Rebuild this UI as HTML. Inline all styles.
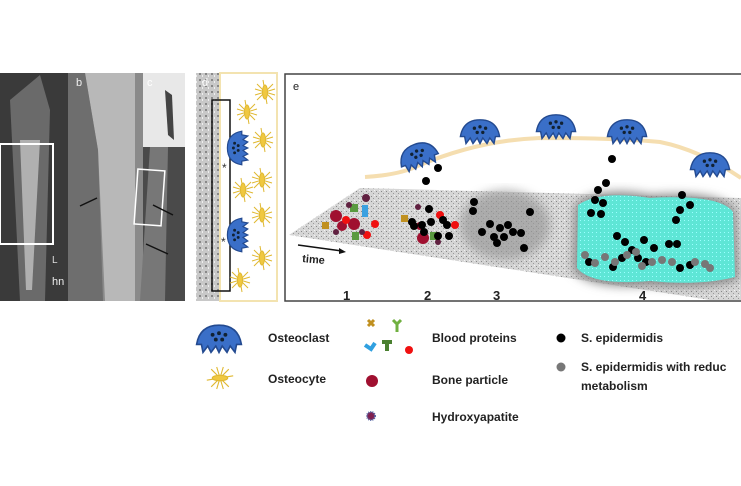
<!DOCTYPE html><html><head><style>
body{margin:0;width:741px;height:486px;background:#fff;overflow:hidden;position:relative;font-family:"Liberation Sans",sans-serif}
.t{position:absolute;font-size:12px;font-weight:bold;color:#222;white-space:nowrap}
</style></head><body>
<svg width="741" height="486" style="position:absolute;left:0;top:0">
<defs>
<pattern id="sp" width="5" height="5" patternUnits="userSpaceOnUse"><rect width="5" height="5" fill="#d6d6d6"/><rect x="1" y="1" width="1" height="1" fill="#888"/><rect x="3" y="3" width="1" height="1" fill="#999"/><rect x="4" y="0" width="1" height="1" fill="#f4f4f4"/></pattern>
<pattern id="sp2" width="6" height="6" patternUnits="userSpaceOnUse"><rect width="6" height="6" fill="#c8c8c8"/><rect x="1" y="1" width="2" height="2" fill="#888"/><rect x="4" y="3" width="1" height="2" fill="#eee"/></pattern>
<pattern id="cy" width="4" height="4" patternUnits="userSpaceOnUse"><rect width="4" height="4" fill="#5ee6d6"/><rect width="1" height="1" fill="#9ff"/></pattern>
<filter id="bl"><feGaussianBlur stdDeviation="5"/></filter>
<g id="oc"><path d="M-14,4 Q-12,-8 0,-8 Q12,-8 14,4 L11,4 L10,9 L7,5 L5,9 L2,5 L0,9 L-2,5 L-5,9 L-7,5 L-10,9 L-11,4Z" fill="#3a6fc8" stroke="#234a90"/><circle cx="-4" cy="-2" r="1.2" fill="#123"/><circle cx="0" cy="-3" r="1.2" fill="#123"/><circle cx="4" cy="-2" r="1.2" fill="#123"/><circle cx="-2" cy="1" r="1.2" fill="#123"/><circle cx="2" cy="1" r="1.2" fill="#123"/></g>
<g id="ot" stroke="#e0b830" stroke-width="1"><line x1="-10" y1="-3" x2="10" y2="3"/><line x1="-10" y1="3" x2="10" y2="-3"/><line x1="-8" y1="-8" x2="8" y2="8"/><line x1="-8" y1="8" x2="8" y2="-8"/><line x1="-2" y1="-12" x2="2" y2="12"/><ellipse rx="2.5" ry="7" fill="#f0c840"/></g>
</defs>
<rect x="0" y="73" width="68" height="228" fill="#3a3a3a"/>
<path d="M10,100 L40,75 L50,110 L45,301 L20,301Z" fill="#6a6a6a"/>
<path d="M20,140 L40,140 L32,290 L26,290Z" fill="#b0b0b0"/>
<rect x="0" y="144" width="53" height="100" fill="none" stroke="#fff" stroke-width="2"/>
<text x="52" y="263" fill="#ddd" font-size="10" font-family="Liberation Sans">L</text>
<text x="52" y="285" fill="#eee" font-size="11" font-family="Liberation Sans">hn</text>
<rect x="68" y="73" width="75" height="228" fill="#8a8a8a"/>
<path d="M85,73 L135,73 L135,301 L105,301 L98,150Z" fill="#b8b8b8"/>
<path d="M68,73 L85,73 L98,150 L103,301 L68,301Z" fill="#6e6e6e"/>
<text x="76" y="86" fill="#eee" font-size="11" font-family="Liberation Sans">b</text>
<line x1="80" y1="206" x2="97" y2="198" stroke="#111" stroke-width="1.5"/>
<rect x="143" y="147" width="42" height="154" fill="#4a4a4a"/>
<path d="M150,147 L168,147 L165,301 L140,301Z" fill="#777"/>
<rect x="143" y="73" width="42" height="74" fill="#e8e8e8"/>
<path d="M165,90 L172,95 L174,140 L168,135Z" fill="#444"/>
<text x="147" y="86" fill="#fff" font-size="11" font-family="Liberation Sans">c</text>
<rect x="136" y="170" width="27" height="55" fill="none" stroke="#fff" stroke-width="1.5" transform="rotate(4 150 197)"/>
<line x1="173" y1="215" x2="153" y2="205" stroke="#111" stroke-width="1.5"/>
<line x1="168" y1="254" x2="146" y2="244" stroke="#111" stroke-width="1.5"/>
<rect x="196" y="73" width="24" height="228" fill="url(#sp2)"/>
<rect x="220" y="73" width="57" height="228" fill="#fff" stroke="#f3e3b0" stroke-width="2"/>
<text x="202" y="86" fill="#fff" font-size="11" font-family="Liberation Sans">d</text>
<rect x="212" y="100" width="18" height="191" fill="none" stroke="#111" stroke-width="1.5"/>
<use href="#oc" transform="translate(237,148) rotate(-90) scale(1.2)"/>
<use href="#oc" transform="translate(237,235) rotate(-90) scale(1.2)"/>
<use href="#ot" x="247" y="112"/><use href="#ot" x="265" y="92"/><use href="#ot" x="263" y="140"/><use href="#ot" x="262" y="180"/><use href="#ot" x="243" y="190"/><use href="#ot" x="262" y="215"/><use href="#ot" x="262" y="258"/><use href="#ot" x="240" y="280"/>
<text x="222" y="172" font-size="12" fill="#333">*</text><text x="221" y="246" font-size="12" fill="#333">*</text>
<rect x="285" y="74" width="470" height="227" fill="#fff" stroke="#444" stroke-width="1.5"/>
<text x="293" y="90" font-size="11" fill="#222" font-family="Liberation Sans">e</text>
<path d="M289,235 L360,188 L741,198 L741,300 L710,300Z" fill="url(#sp)"/>
<ellipse cx="505" cy="225" rx="45" ry="35" fill="#999" filter="url(#bl)" opacity="0.7"/>
<path d="M575,205 Q600,185 650,195 Q720,190 735,210 L738,280 Q700,290 650,285 Q590,290 573,270Z" fill="#888" filter="url(#bl)"/>
<path d="M578,205 Q600,190 650,198 Q720,194 733,212 L735,277 Q700,286 650,281 Q592,286 577,268Z" fill="url(#cy)"/>
<path d="M365,177 Q400,175 420,165 Q480,140 540,138 Q620,138 660,142 Q700,150 741,178" fill="none" stroke="#f5deb0" stroke-width="4"/>
<use href="#oc" transform="translate(418,155) rotate(-20) scale(1.4)"/>
<use href="#oc" transform="translate(480,131) scale(1.4)"/>
<use href="#oc" transform="translate(556,126) scale(1.4)"/>
<use href="#oc" transform="translate(627,131) scale(1.4)"/>
<use href="#oc" transform="translate(710,164) scale(1.4)"/>
<g fill="#a01030"><circle cx="336" cy="216" r="6"/><circle cx="354" cy="224" r="6"/><circle cx="342" cy="226" r="5"/><circle cx="423" cy="238" r="6"/><circle cx="420" cy="226" r="4"/></g>
<g fill="#f01010"><circle cx="346" cy="220" r="4"/><circle cx="375" cy="224" r="4"/><circle cx="367" cy="235" r="4"/><circle cx="455" cy="225" r="4"/><circle cx="440" cy="215" r="4"/></g>
<g fill="#3aa0e0"><rect x="362" y="205" width="6" height="12"/></g>
<g fill="#5a9a40"><rect x="350" y="204" width="8" height="8"/><rect x="352" y="232" width="7" height="8"/><rect x="430" y="232" width="8" height="8"/></g>
<g fill="#c09020"><rect x="322" y="222" width="7" height="7"/><rect x="401" y="215" width="7" height="7"/></g>
<g fill="#602040"><circle cx="366" cy="198" r="4"/><circle cx="349" cy="205" r="3"/><circle cx="336" cy="232" r="3"/><circle cx="362" cy="232" r="3"/><circle cx="418" cy="207" r="3"/><circle cx="438" cy="242" r="3"/></g>
<g fill="#000"><circle cx="438" cy="168" r="4"/><circle cx="426" cy="181" r="4"/><circle cx="429" cy="209" r="4"/><circle cx="412" cy="222" r="4"/><circle cx="414" cy="226" r="4"/><circle cx="422" cy="225" r="4"/><circle cx="431" cy="222" r="4"/><circle cx="443" cy="220" r="4"/><circle cx="447" cy="225" r="4"/><circle cx="438" cy="236" r="4"/><circle cx="449" cy="236" r="4"/><circle cx="424" cy="232" r="4"/><circle cx="474" cy="202" r="4"/><circle cx="473" cy="211" r="4"/><circle cx="530" cy="212" r="4"/><circle cx="490" cy="224" r="4"/><circle cx="482" cy="232" r="4"/><circle cx="494" cy="237" r="4"/><circle cx="500" cy="228" r="4"/><circle cx="508" cy="225" r="4"/><circle cx="504" cy="237" r="4"/><circle cx="497" cy="243" r="4"/><circle cx="513" cy="232" r="4"/><circle cx="521" cy="233" r="4"/><circle cx="524" cy="248" r="4"/><circle cx="612" cy="159" r="4"/><circle cx="606" cy="183" r="4"/><circle cx="598" cy="190" r="4"/><circle cx="595" cy="200" r="4"/><circle cx="603" cy="203" r="4"/><circle cx="591" cy="213" r="4"/><circle cx="601" cy="214" r="4"/><circle cx="682" cy="195" r="4"/><circle cx="690" cy="205" r="4"/><circle cx="680" cy="210" r="4"/><circle cx="676" cy="220" r="4"/><circle cx="617" cy="236" r="4"/><circle cx="625" cy="242" r="4"/><circle cx="632" cy="250" r="4"/><circle cx="644" cy="240" r="4"/><circle cx="654" cy="248" r="4"/><circle cx="622" cy="258" r="4"/><circle cx="638" cy="258" r="4"/><circle cx="646" cy="262" r="4"/><circle cx="669" cy="244" r="4"/><circle cx="677" cy="244" r="4"/><circle cx="589" cy="262" r="4"/><circle cx="613" cy="267" r="4"/><circle cx="680" cy="268" r="4"/><circle cx="690" cy="265" r="4"/></g>
<g fill="#777"><circle cx="585" cy="255" r="4"/><circle cx="595" cy="263" r="4"/><circle cx="605" cy="257" r="4"/><circle cx="615" cy="262" r="4"/><circle cx="627" cy="255" r="4"/><circle cx="642" cy="266" r="4"/><circle cx="652" cy="262" r="4"/><circle cx="662" cy="260" r="4"/><circle cx="672" cy="262" r="4"/><circle cx="695" cy="262" r="4"/><circle cx="705" cy="264" r="4"/><circle cx="710" cy="268" r="4"/><circle cx="636" cy="252" r="4"/></g>
<line x1="298" y1="245" x2="342" y2="251" stroke="#111" stroke-width="1.5"/><path d="M346,252 L339,248 L339,254Z" fill="#111"/>
<text x="302" y="262" font-size="11" font-weight="bold" fill="#222" transform="rotate(5 302 262)">time</text>
<g font-size="13" font-weight="bold" fill="#222"><text x="343" y="300">1</text><text x="424" y="300">2</text><text x="493" y="300">3</text><text x="639" y="300">4</text></g>
<use href="#oc" transform="translate(219,338) scale(1.6)"/>
<use href="#ot" transform="translate(220,378) rotate(90) scale(1.1)"/>
<path d="M368,320 l6,6 M374,320 l-6,6" stroke="#c09020" stroke-width="3"/>
<path d="M393,320 l4,4 4,-4 M397,324 v8" stroke="#70b040" stroke-width="3" fill="none"/>
<path d="M365,345 l6,4 l4,-6" stroke="#30a0e0" stroke-width="4" fill="none"/>
<rect x="382" y="340" width="10" height="4" fill="#4a8030"/><rect x="385" y="343" width="4" height="8" fill="#4a8030"/>
<circle cx="409" cy="350" r="4" fill="#f01010"/>
<circle cx="372" cy="381" r="6" fill="#a01030"/>
<circle cx="371" cy="416" r="4" fill="#802050" stroke="#5060a0" stroke-width="2" stroke-dasharray="1 1"/>
<circle cx="561" cy="338" r="4.5" fill="#000"/><circle cx="561" cy="367" r="4.5" fill="#777"/>
</svg>
<div class="t" style="left:268px;top:331px">Osteoclast</div>
<div class="t" style="left:268px;top:372px">Osteocyte</div>
<div class="t" style="left:432px;top:331px">Blood proteins</div>
<div class="t" style="left:432px;top:373px">Bone particle</div>
<div class="t" style="left:432px;top:410px">Hydroxyapatite</div>
<div class="t" style="left:581px;top:331px">S. epidermidis</div>
<div class="t" style="left:581px;top:360px">S. epidermidis with reduc</div>
<div class="t" style="left:581px;top:379px">metabolism</div>
</body></html>
